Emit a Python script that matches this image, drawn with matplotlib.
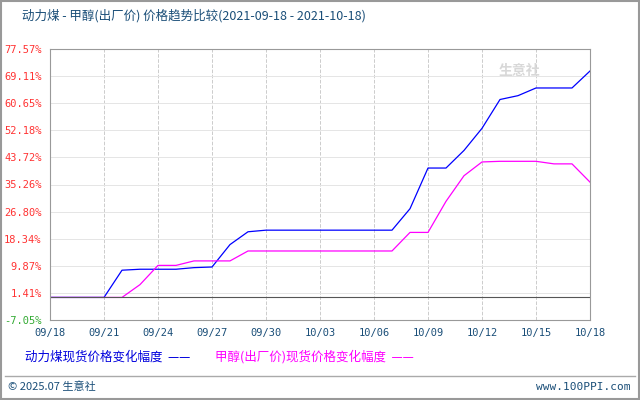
import matplotlib

matplotlib.use("Agg")
import matplotlib.pyplot as plt
import numpy as np

plt.rcParams["font.family"] = ["Noto Sans CJK SC", "DejaVu Sans"]

TITLE = "动力煤 - 甲醇(出厂价) 价格趋势比较(2021-09-18 - 2021-10-18)"
DAYS = np.arange(31)
XTICK_LABELS = ["09/18", "09/21", "09/24", "09/27", "09/30", "10/03",
                "10/06", "10/09", "10/12", "10/15", "10/18"]
YTICKS = [77.57, 69.11, 60.65, 52.18, 43.72, 35.26, 26.80, 18.34, 9.87, 1.41, -7.05]

coal = [0, 0, 0, 0, 8.5, 8.8, 8.8, 8.8, 9.3, 9.5, 16.5, 20.5, 21, 21, 21, 21,
        21, 21, 21, 21, 27.7, 40.4, 40.4, 45.9, 52.8, 61.8, 63, 65.4, 65.4, 65.4, 70.7]
methanol = [0, 0, 0, 0, 0, 4, 10, 10, 11.4, 11.4, 11.4, 14.5, 14.5, 14.5, 14.5, 14.5,
            14.5, 14.5, 14.5, 14.5, 20.3, 20.3, 30, 38, 42.3, 42.5, 42.5, 42.5, 41.7, 41.7, 36]

fig = plt.figure(figsize=(6.4, 4.0), dpi=100)
fig.patch.set_facecolor("white")
ax = fig.add_axes([50 / 640, 1 - 320 / 400, 540 / 640, 271 / 400])

ax.plot(DAYS, coal, color="#0000ff", lw=0.9)
ax.plot(DAYS, methanol, color="#ff00ff", lw=0.9)
ax.axhline(0, color="#555555", lw=0.8)

ax.set_xlim(0, 30)
ax.set_ylim(-7.05, 77.57)
ax.set_xticks(DAYS[::3])
ax.set_xticklabels(XTICK_LABELS, fontsize=7.5, color="#1a4e78", family=["DejaVu Sans Mono"])
ax.set_yticks(YTICKS)
ax.set_yticklabels([f"{v:.2f}%" for v in YTICKS], fontsize=7.5, family=["DejaVu Sans Mono"])
for lab, v in zip(ax.get_yticklabels(), YTICKS):
    lab.set_color("#33aa33" if v < 0 else "#ff3333")
ax.tick_params(length=0, pad=6)
ax.grid(axis="x", color="#cccccc", ls="--", lw=0.7)
ax.grid(axis="y", color="#e5e5e5", ls="-", lw=0.7)
for s in ax.spines.values():
    s.set_color("#999999")

ax.text(0.87, 0.92, "生意社", transform=ax.transAxes, fontsize=10, color="#d8d8d8",
        ha="center", va="center", fontweight="bold")

fig.text(22 / 640, 1 - 16 / 400, TITLE, fontsize=9, color="#1a4e78", va="center")
fig.text(25 / 640, 1 - 357 / 400, "动力煤现货价格变化幅度  ——", fontsize=9, color="#0000dd", va="center")
fig.text(215 / 640, 1 - 357 / 400, "甲醇(出厂价)现货价格变化幅度  ——", fontsize=9, color="#ff00ff", va="center")
fig.add_artist(plt.Line2D([5 / 640, 635 / 640], [1 - 376 / 400] * 2, color="#aaaaaa", lw=1))
fig.text(8 / 640, 1 - 387 / 400, "© 2025.07 生意社", fontsize=8, color="#1a4e78", va="center")
fig.text(630 / 640, 1 - 387 / 400, "www.100PPI.com", fontsize=8, color="#1a4e78", va="center",
         ha="right", family=["DejaVu Sans Mono"])
fig.add_artist(plt.Rectangle((0.002, 0.002), 0.996, 0.996, fill=False, ec="#999999", lw=1.5))

fig.savefig("out.png", dpi=100)
